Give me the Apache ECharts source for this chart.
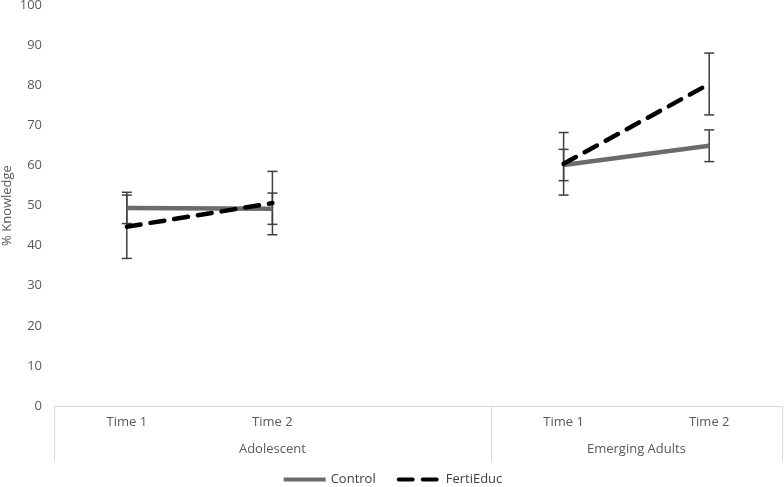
<!DOCTYPE html>
<html>
<head>
<meta charset="utf-8">
<script src="https://cdn.jsdelivr.net/npm/echarts@6/dist/echarts.min.js"></script>
<style>html,body{margin:0;padding:0;background:#fff;}#c{width:784px;height:487px;}</style>
</head>
<body>
<div id="c"></div>
<script>
// Data
const categories = ['Time 1', 'Time 2', '', 'Time 1', 'Time 2'];
const groups = ['Adolescent', 'Emerging Adults'];
const groupCenters = [1.5, 4];
const groupBounds = [0, 3, 5];
const controlMean = [49.4, 49.2, null, 60.1, 64.9];
const controlErr = [3.9, 3.9, null, 3.9, 3.95];
const fertiMean = [44.7, 50.6, null, 60.4, 80.3];
const fertiErr = [7.9, 7.9, null, 7.8, 7.7];
const yTicks = [0, 10, 20, 30, 40, 50, 60, 70, 80, 90, 100];

const FONT = 'Open Sans';
const TXT = '#595959';

function errData(mean, err) {
  const out = [];
  mean.forEach((m, i) => { if (m !== null) out.push([i, m - err[i], m + err[i]]); });
  return out;
}
function errRender(params, api) {
  const x = api.value(0), lo = api.value(1), hi = api.value(2);
  const pLo = api.coord([x, lo]), pHi = api.coord([x, hi]);
  const cap = 5;
  const st = { stroke: '#3f3f3f', lineWidth: 1.5 };
  return { type: 'group', children: [
    { type: 'line', shape: { x1: pLo[0], y1: pLo[1], x2: pHi[0], y2: pHi[1] }, style: st },
    { type: 'line', shape: { x1: pLo[0] - cap, y1: pLo[1], x2: pLo[0] + cap, y2: pLo[1] }, style: st },
    { type: 'line', shape: { x1: pHi[0] - cap, y1: pHi[1], x2: pHi[0] + cap, y2: pHi[1] }, style: st }
  ]};
}

const chart = echarts.init(document.getElementById('c'), null, { renderer: 'canvas' });
chart.setOption({
  animation: false,
  textStyle: { fontFamily: FONT },
  grid: { left: 54, right: 2, top: 5, bottom: 81, containLabel: false, outerBoundsMode: 'none' },
  legend: {
    top: 468, left: 'center',
    itemWidth: 42, itemHeight: 14, itemGap: 21,
    itemStyle: { opacity: 0 },
    lineStyle: { width: 4 },
    textStyle: { color: '#404040', fontSize: 13, fontFamily: FONT },
    data: ['Control', 'FertiEduc']
  },
  xAxis: [{
    type: 'category', data: categories, boundaryGap: true,
    axisLine: { show: true, lineStyle: { color: '#d9d9d9', width: 1 } },
    axisTick: { show: false },
    axisLabel: { color: TXT, fontSize: 13, margin: 10, fontFamily: FONT, interval: 0 },
    splitLine: { show: false }
  }, {
    type: 'value', min: 0, max: 5, position: 'bottom',
    axisLine: { show: false },
    axisTick: { show: true, inside: false, length: 55, customValues: groupBounds, lineStyle: { color: '#d9d9d9', width: 1 } },
    axisLabel: { show: true, customValues: groupCenters, color: TXT, fontSize: 13, margin: 37, fontFamily: FONT,
      formatter: v => { const i = groupCenters.indexOf(v); return i >= 0 ? groups[i] : ''; } },
    splitLine: { show: false }
  }],
  yAxis: {
    type: 'value', min: 0, max: 100, interval: 10,
    name: '% Knowledge', nameLocation: 'middle', nameGap: 40, nameRotate: 90,
    nameMoveOverlap: false,
    nameTextStyle: { color: TXT, fontSize: 13, fontFamily: FONT },
    axisLine: { show: false }, axisTick: { show: false },
    splitLine: { show: false },
    axisLabel: { color: TXT, fontSize: 13, margin: 12, fontFamily: FONT,
      customValues: yTicks }
  },
  series: [{
    name: 'ControlErr', type: 'custom', renderItem: errRender,
    data: errData(controlMean, controlErr), z: 1, silent: true
  }, {
    name: 'FertiErr', type: 'custom', renderItem: errRender,
    data: errData(fertiMean, fertiErr), z: 1, silent: true
  }, {
    name: 'Control', type: 'line', data: controlMean.map(v => v === null ? '-' : v),
    connectNulls: false, showSymbol: false, symbol: 'none', z: 3,
    lineStyle: { color: '#6b6b6b', width: 4.5, cap: 'butt' }, itemStyle: { color: '#6b6b6b' }
  }, {
    name: 'FertiEduc', type: 'line', data: fertiMean.map(v => v === null ? '-' : v),
    connectNulls: false, showSymbol: false, symbol: 'none', z: 4,
    lineStyle: { color: '#000000', width: 4.5, type: [14, 10], cap: 'round' }, itemStyle: { color: '#000000' }
  }]
});
</script>
</body>
</html>
